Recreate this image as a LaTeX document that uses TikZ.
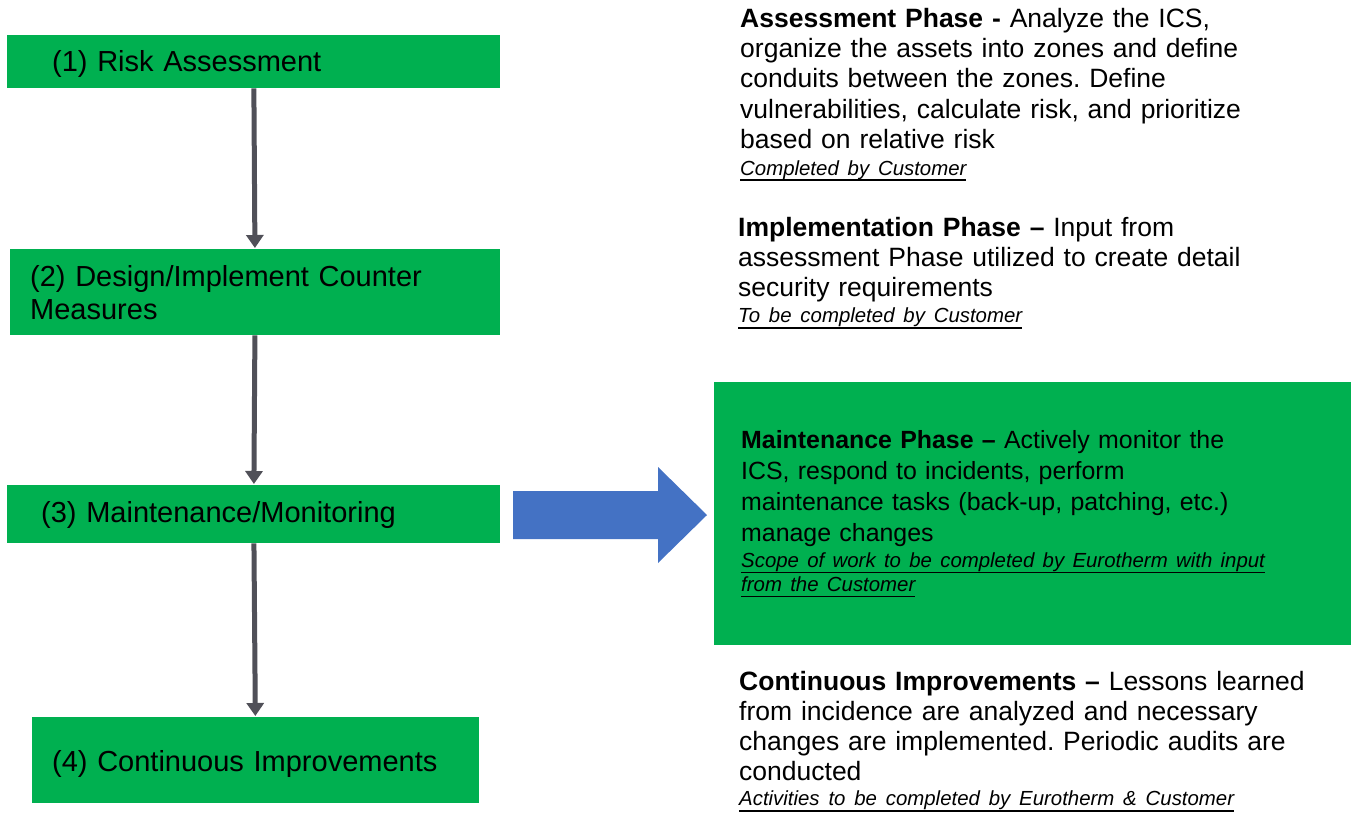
\documentclass[tikz,border=0pt]{standalone}
\usepackage{fontspec}
\setmainfont{Liberation Sans}
\usetikzlibrary{arrows.meta,positioning}

\definecolor{stagegreen}{HTML}{00B050}
\definecolor{flowblue}{HTML}{4472C4}
\definecolor{linkgray}{RGB}{80,80,88}

\newcommand{\phasenote}[1]{\leavevmode\setbox0\hbox{#1}\rlap{\rule[-6pt]{\wd0}{1.6pt}}\box0}
\frenchspacing

\begin{document}
\begin{tikzpicture}[x=1pt, y=-1pt,
  stage/.style={fill=stagegreen, anchor=north west, align=left, inner ysep=0pt,
    font=\fontsize{29}{33}\selectfont},
  link/.style={-{Triangle[width=17pt,length=13pt]}, line width=5pt, linkgray, shorten >=1pt},
  phase/.style={anchor=base west, align=left, inner sep=0pt, text width=600pt,
    font=\fontsize{26.5}{30.3}\selectfont}]

  \useasboundingbox (0,0) rectangle (1351,815);

  % -- Stages --
  \node[stage, minimum width=493pt, minimum height=53pt, inner xsep=45pt, text width=403pt,
    text height=26pt] (risk) at (7,35) {(1) Risk Assessment};
  \node[stage, minimum width=490pt, minimum height=86pt, inner xsep=20pt, text width=450pt]
    (design) at (10,249) {(2) Design/Implement Counter\\Measures};
  \node[stage, minimum width=493pt, minimum height=58pt, inner xsep=34pt, text width=425pt,
    text height=23pt] (monitor) at (7,485) {(3) Maintenance/Monitoring};
  \node[stage, minimum width=447pt, minimum height=86pt, inner xsep=20pt, text width=407pt,
    text height=29pt] (improve) at (32,717) {(4) Continuous Improvements};

  % -- Flow between stages --
  \draw[link] (risk) -- (design);
  \draw[link] (design) -- (monitor);
  \draw[link] (monitor) -- (improve);

  % -- Phase descriptions --
  \node[phase] (assessphase) at (740,27.3)
    {\textbf{Assessment Phase -} Analyze the ICS,\\
     organize the assets into zones and define\\
     conduits between the zones. Define\\
     vulnerabilities, calculate risk, and prioritize\\
     based on relative risk\par
     {\fontsize{20.4}{26.5}\selectfont\itshape\phasenote{Completed by Customer}\par}};

  \node[phase] (implphase) at (738,236)
    {\textbf{Implementation Phase –} Input from\\
     assessment Phase utilized to create detail\\
     security requirements\par
     {\fontsize{20.4}{26}\selectfont\itshape\phasenote{To be completed by Customer}\par}};

  \node[stage, minimum width=637pt, minimum height=263pt, inner xsep=27pt, text width=583pt,
    font=\fontsize{24.9}{31}\selectfont] (maintphase) at (714,382)
    {\textbf{Maintenance Phase –} Actively monitor the\\
     ICS, respond to incidents, perform\\
     maintenance tasks (back-up, patching, etc.)\\
     manage changes\par
     {\fontsize{20.4}{26}\selectfont\itshape\phasenote{Scope of work to be completed by Eurotherm with input}\\[-2pt]
      \phasenote{from the Customer}\par}};

  \node[phase] (contphase) at (739,690)
    {\textbf{Continuous Improvements –} Lessons learned\\
     from incidence are analyzed and necessary\\
     changes are implemented. Periodic audits are\\
     conducted\par
     {\fontsize{20.4}{25}\selectfont\itshape\phasenote{Activities to be completed by Eurotherm \& Customer}\par}};

  % -- Hand-over arrow --
  \fill[flowblue] (513,491) -- (658,491) -- (658,467) -- (707,515)
    -- (658,563) -- (658,539) -- (513,539) -- cycle;

\end{tikzpicture}
\end{document}
